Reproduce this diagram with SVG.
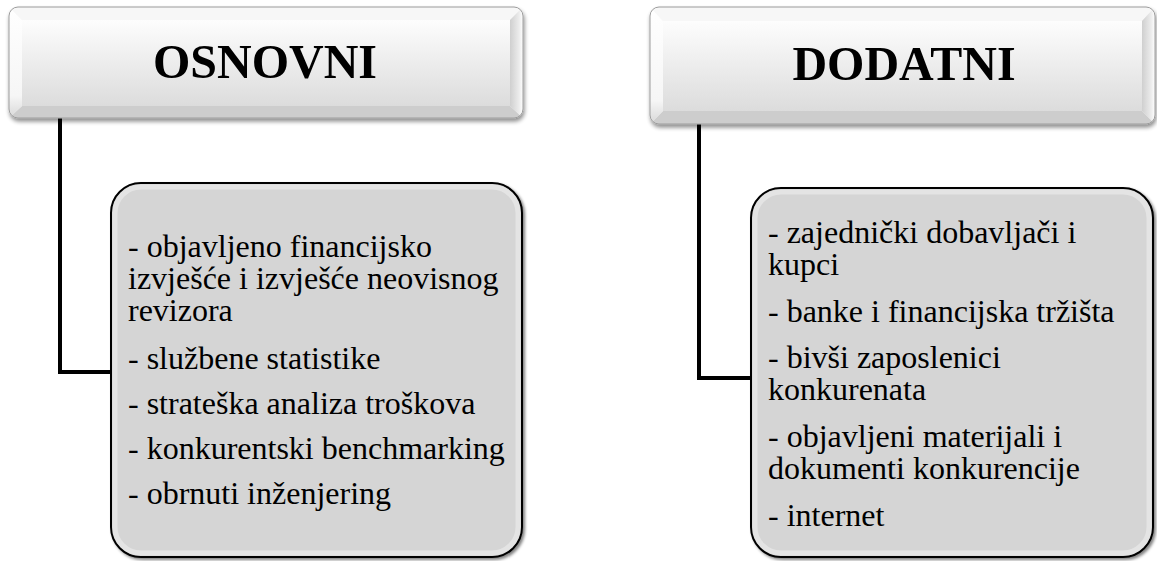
<svg xmlns="http://www.w3.org/2000/svg" width="1157" height="561" viewBox="0 0 1157 561">
<style>
.title{font-family:"Liberation Serif","Times New Roman",serif;font-weight:bold;font-size:48px;fill:#000;text-anchor:middle}
.item{font-family:"Liberation Serif","Times New Roman",serif;font-size:32px;fill:#000}
.conn{fill:none;stroke:#000;stroke-width:4}
.card{fill:#d5d5d5;stroke:#000;stroke-width:2}
.rim{fill:none;stroke:#e4e4e4;stroke-width:5}
</style>
<defs>
<linearGradient id="face" x1="0" y1="0" x2="0" y2="1">
<stop offset="0" stop-color="#fdfdfd"/><stop offset="1" stop-color="#dcdcdc"/>
</linearGradient>
<linearGradient id="rbev" x1="0" y1="0" x2="1" y2="0">
<stop offset="0" stop-color="#cfcfcf"/><stop offset="0.7" stop-color="#ececec"/><stop offset="1" stop-color="#ffffff"/>
</linearGradient>
<linearGradient id="lbev" x1="0" y1="0" x2="0" y2="1">
<stop offset="0" stop-color="#ffffff"/><stop offset="0.8" stop-color="#f6f6f6"/><stop offset="1" stop-color="#d8d8d8"/>
</linearGradient>
<filter id="sh" x="-5%" y="-20%" width="110%" height="150%">
<feGaussianBlur in="SourceAlpha" stdDeviation="2"/><feOffset dx="1" dy="3"/>
<feComponentTransfer><feFuncA type="linear" slope="0.45"/></feComponentTransfer>
<feMerge><feMergeNode/><feMergeNode in="SourceGraphic"/></feMerge>
</filter>
<filter id="sh2" x="-5%" y="-5%" width="110%" height="110%">
<feGaussianBlur in="SourceAlpha" stdDeviation="1.5"/><feOffset dx="2" dy="2"/>
<feComponentTransfer><feFuncA type="linear" slope="0.5"/></feComponentTransfer>
<feMerge><feMergeNode/><feMergeNode in="SourceGraphic"/></feMerge>
</filter>
<clipPath id="c1"><rect x="9" y="7" width="514" height="111" rx="9"/></clipPath>
<clipPath id="c2"><rect x="650" y="7" width="505" height="117" rx="9"/></clipPath>
</defs>

<g id="connectors">
<path class="conn" d="M60,118 V372 H112"/>
<path class="conn" d="M699,124 V378 H752"/>
</g>

<g id="osnovni" filter="url(#sh)">
<g clip-path="url(#c1)">
<rect x="9" y="7" width="514" height="111" fill="#f2f2f2"/>
<polygon points="9,7 523,7 510,20 22,20" fill="#f7f7f7"/>
<polygon points="22,106 510,106 523,118 9,118" fill="#cdcdcd"/>
<polygon points="9,7 22,20 22,106 9,118" fill="url(#lbev)"/>
<polygon points="523,7 510,20 510,106 523,118" fill="url(#rbev)"/>
<rect x="22" y="20" width="488" height="86" fill="url(#face)"/>
</g>
<rect x="9" y="7" width="514" height="111" rx="9" fill="none" stroke="#9c9c9c" stroke-width="1"/>
<text class="title" x="265" y="78">OSNOVNI</text>
</g>

<g id="dodatni" filter="url(#sh)">
<g clip-path="url(#c2)">
<rect x="650" y="7" width="505" height="117" fill="#f2f2f2"/>
<polygon points="650,7 1155,7 1142,21 663,21" fill="#f7f7f7"/>
<polygon points="663,111 1142,111 1155,124 650,124" fill="#cdcdcd"/>
<polygon points="650,7 663,21 663,111 650,124" fill="url(#lbev)"/>
<polygon points="1155,7 1142,21 1142,111 1155,124" fill="url(#rbev)"/>
<rect x="663" y="21" width="479" height="90" fill="url(#face)"/>
</g>
<rect x="650" y="7" width="505" height="117" rx="9" fill="none" stroke="#9c9c9c" stroke-width="1"/>
<text class="title" x="904" y="80">DODATNI</text>
</g>

<g id="osnovni-list">
<rect class="card" x="111" y="183" width="411" height="374" rx="30" filter="url(#sh2)"/>
<rect class="rim" x="115" y="187" width="403" height="366" rx="26"/>
<text class="item"><tspan x="128" y="257">- objavljeno financijsko</tspan><tspan x="128" y="289">izvješće i izvješće neovisnog</tspan><tspan x="128" y="321">revizora</tspan><tspan x="128" y="369">- službene statistike</tspan><tspan x="128" y="414">- strateška analiza troškova</tspan><tspan x="128" y="459">- konkurentski benchmarking</tspan><tspan x="128" y="504">- obrnuti inženjering</tspan></text>
</g>

<g id="dodatni-list">
<rect class="card" x="751" y="188" width="402" height="369" rx="30" filter="url(#sh2)"/>
<rect class="rim" x="755" y="192" width="394" height="361" rx="26"/>
<text class="item"><tspan x="768" y="243">- zajednički dobavljači i</tspan><tspan x="768" y="275">kupci</tspan><tspan x="768" y="322">- banke i financijska tržišta</tspan><tspan x="768" y="368">- bivši zaposlenici</tspan><tspan x="768" y="400">konkurenata</tspan><tspan x="768" y="447">- objavljeni materijali i</tspan><tspan x="768" y="479">dokumenti konkurencije</tspan><tspan x="768" y="526">- internet</tspan></text>
</g>
</svg>
